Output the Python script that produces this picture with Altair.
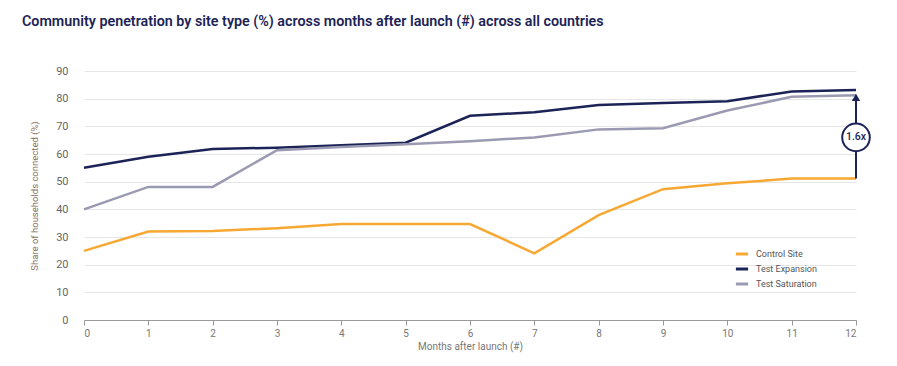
import altair as alt
import pandas as pd

months = list(range(13))
control = [25, 32, 32.2, 33.2, 34.7, 34.7, 34.7, 24.1, 37.9, 47.3, 49.4, 51.1, 51.1]
expansion = [55, 59, 61.8, 62.3, 63.2, 64.1, 73.8, 75.1, 77.7, 78.4, 79.1, 82.6, 83.1]
saturation = [40, 48.1, 48.1, 61.4, 62.5, 63.5, 64.6, 66, 68.9, 69.3, 75.7, 80.7, 81.2]
series_names = ["Control Site", "Test Expansion", "Test Saturation"]
series_colors = ["#F7A833", "#1C2356", "#9A9AB2"]
y_ticks = list(range(0, 91, 10))

rows = []
for name, vals in zip(series_names, [control, expansion, saturation]):
    for m, v in zip(months, vals):
        rows.append({"month": m, "value": v, "series": name})
df = pd.DataFrame(rows)

ann_x = 12
ann_low = 51.1
ann_high = 80.5
ann_circle_y = 66
ann_label = "1.6x"

x_scale = alt.Scale(domain=[0, 12], nice=False)
y_scale = alt.Scale(domain=[0, 90], nice=False)

x_axis = alt.Axis(values=months, format="d", grid=False, domainColor="#999",
                  tickColor="#999", tickSize=5, labelColor="#777", labelFontSize=10,
                  titleColor="#777", titleFontSize=10, titleFontWeight="normal",
                  labelPadding=3, titlePadding=3)
y_axis = alt.Axis(values=y_ticks, labelOverlap=False, domain=False,
                  ticks=False, gridColor="#e6e6e6", labelColor="#666",
                  labelFontSize=11, labelPadding=16, titleColor="#8a7262",
                  titleFontSize=9.5, titleFontWeight="normal", titlePadding=16)
x_title = "Months after launch (#)"
y_title = "Share of households connected (%)"


def xenc(field):
    return alt.X(field, scale=x_scale, axis=x_axis, title=x_title)


def yenc(field):
    return alt.Y(field, scale=y_scale, axis=y_axis, title=y_title)


lines = alt.Chart(df).mark_line(strokeWidth=2.5).encode(
    x=xenc("month:Q"),
    y=yenc("value:Q"),
    color=alt.Color("series:N", scale=alt.Scale(domain=series_names, range=series_colors),
                    legend=alt.Legend(title=None, orient="none", legendX=650, legendY=175,
                                      symbolType="stroke", symbolStrokeWidth=3, symbolSize=150,
                                      labelFontSize=9, labelColor="#555", rowPadding=1,
                                      labelOffset=6)),
)

ann_df = pd.DataFrame({"x": [ann_x], "y": [ann_low], "y2": [ann_high],
                       "cy": [ann_circle_y], "label": [ann_label], "tip": [ann_high]})

rule = alt.Chart(ann_df).mark_rule(color="#1C2356", strokeWidth=2).encode(
    x=xenc("x:Q"), y=yenc("y:Q"), y2="y2:Q")
arrow = alt.Chart(ann_df).mark_point(shape="triangle-up", filled=True, color="#1C2356",
                                      size=70, opacity=1).encode(
    x=xenc("x:Q"), y=yenc("tip:Q"))
circle = alt.Chart(ann_df).mark_point(shape="circle", filled=True, fill="white",
                                       stroke="#1C2356", strokeWidth=2, size=760,
                                       opacity=1).encode(
    x=xenc("x:Q"), y=yenc("cy:Q"))
text = alt.Chart(ann_df).mark_text(color="#1C2356", fontSize=10.5, fontWeight=500,
                                    font="Roboto").encode(
    x=xenc("x:Q"), y=yenc("cy:Q"), text="label:N")

chart = alt.layer(lines, rule, arrow, circle, text).properties(
    width=772, height=249,
    autosize=alt.AutoSizeParams(type="none"),
    padding={"left": 76, "top": 63, "right": 20, "bottom": 36},
    title=alt.Title("Community penetration by site type (%) across months after launch (#) across all countries",
                    anchor="start", frame="group", dx=-62, offset=36, fontSize=14.3,
                    fontWeight=600, color="#1C2356", font="Roboto"),
).configure(font="Roboto").configure_view(stroke=None)

chart.save("out.html", embed_options={"renderer": "svg", "actions": False})
